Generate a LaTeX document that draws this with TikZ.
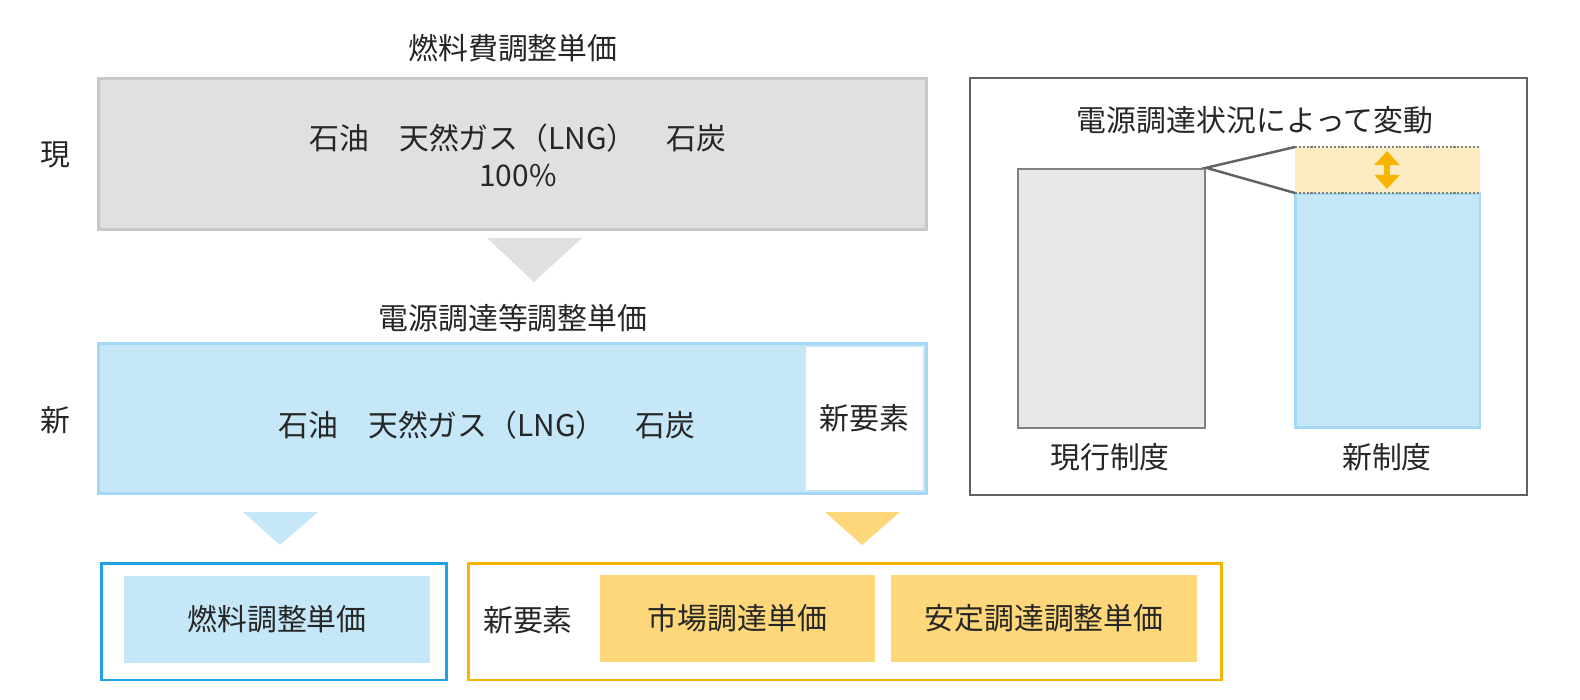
\documentclass[tikz,border=0pt]{standalone}
\usepackage{fontspec}
\setmainfont{Noto Sans CJK JP}
\usetikzlibrary{arrows.meta, positioning}
\definecolor{boxgray}{HTML}{E0E0E0}
\definecolor{linegray}{HTML}{C8C8C8}
\definecolor{paleblue}{HTML}{C5E7F8}
\definecolor{lineblue}{HTML}{A3D9F6}
\definecolor{deepblue}{HTML}{1DA1E2}
\definecolor{paleorange}{HTML}{FDD77A}
\definecolor{deeporange}{HTML}{F7B500}
\definecolor{creamorange}{HTML}{FDEBC2}
\definecolor{panelgray}{HTML}{5F6368}
\begin{document}
\begin{tikzpicture}[
		x=0.02cm, y=-0.02cm,
		every node/.style={font=\fontsize{17}{21}\selectfont, text=black!85, align=center},
		panel/.style={draw, line width=1.7pt, inner sep=0pt},
		fillbox/.style={inner sep=0pt, minimum height=1.74cm},
		label/.style={inner sep=0pt}
		]
		\useasboundingbox (0,0) rectangle (1580,700);
		
		% current system
		\node[label] (ttl1) at (513,48) {燃料費調整単価};
		\node[label] (cur) at (55,155) {現};
		\node[panel, draw=linegray, fill=boxgray, minimum width=16.58cm, minimum height=3.04cm] (fuel) at (512.5,154) {};
		\node[label] (fueltxt) at (518,155) {石油　天然ガス（LNG）　石炭\\100\%};
		\fill[boxgray] (487,238) -- (582,238) -- (534,282) -- cycle;
		
		% new system
		\node[label] (ttl2) at (513,318) {電源調達等調整単価};
		\node[label] (new) at (55,420) {新};
		\node[panel, draw=lineblue, fill=paleblue, minimum width=16.58cm, minimum height=3.02cm] (power) at (512.5,418.5) {};
		\node[label] (powertxt) at (487,425) {石油　天然ガス（LNG）　石炭};
		\node[fill=white, minimum width=2.34cm, minimum height=2.86cm, inner sep=0pt] (elem) at (864.5,418.5) {新要素};
		\fill[paleblue] (243,512) -- (318,512) -- (280,545) -- cycle;
		\fill[paleorange] (825,512) -- (900,512) -- (862,545) -- cycle;
		
		% bottom row
		\node[panel, draw=deepblue, minimum width=6.92cm, minimum height=2.34cm] (left) at (274,621.5) {};
		\node[fillbox, fill=paleblue, minimum width=6.12cm] (fuel2) at (277,619.5) {燃料調整単価};
		\node[panel, draw=deeporange, minimum width=15.08cm, minimum height=2.34cm] (right) at (845,621.5) {};
		\node[label] (elem2) at (528,620) {新要素};
		\node[fillbox, fill=paleorange, minimum width=5.5cm] (market) at (737.5,618.5) {市場調達単価};
		\node[fillbox, fill=paleorange, minimum width=6.12cm] (stable) at (1044,618.5) {安定調達調整単価};
		
		% comparison panel
		\node[draw=panelgray, line width=1.2pt, minimum width=11.14cm, minimum height=8.34cm, inner sep=0pt] (cmp) at (1248.5,286.5) {};
		\node[label] (ttl3) at (1255,120) {電源調達状況によって変動};
		\node[draw=gray, fill=black!9, line width=1.4pt, minimum width=3.74cm, minimum height=5.18cm, inner sep=0pt] (oldbar) at (1111.5,298.5) {};
		\node[draw=lineblue, fill=paleblue, line width=1.7pt, minimum width=3.7cm, minimum height=4.7cm, inner sep=0pt] (newbar) at (1387.5,310.5) {};
		\fill[creamorange] (1295,147) rectangle (1480,193);
		\coordinate (bandtop) at (1295,147);
		\coordinate (bandlow) at (1295,193);
		\draw[gray, densely dotted, line width=1.2pt] (bandtop) -- (1480,147);
		\draw[gray, densely dotted, line width=1.2pt] (bandlow) -- (1480,193);
		\draw[panelgray, line width=1.4pt] (bandtop) -- (oldbar.north east) -- (bandlow);
		\draw[{Triangle[width=14pt,length=8pt]}-{Triangle[width=14pt,length=8pt]}, deeporange, line width=3.5pt] (1387,151) -- (1387,189);
		\node[label] (oldlbl) at (1110,457) {現行制度};
		\node[label] (newlbl) at (1387,457) {新制度};
	\end{tikzpicture}
\end{document}
